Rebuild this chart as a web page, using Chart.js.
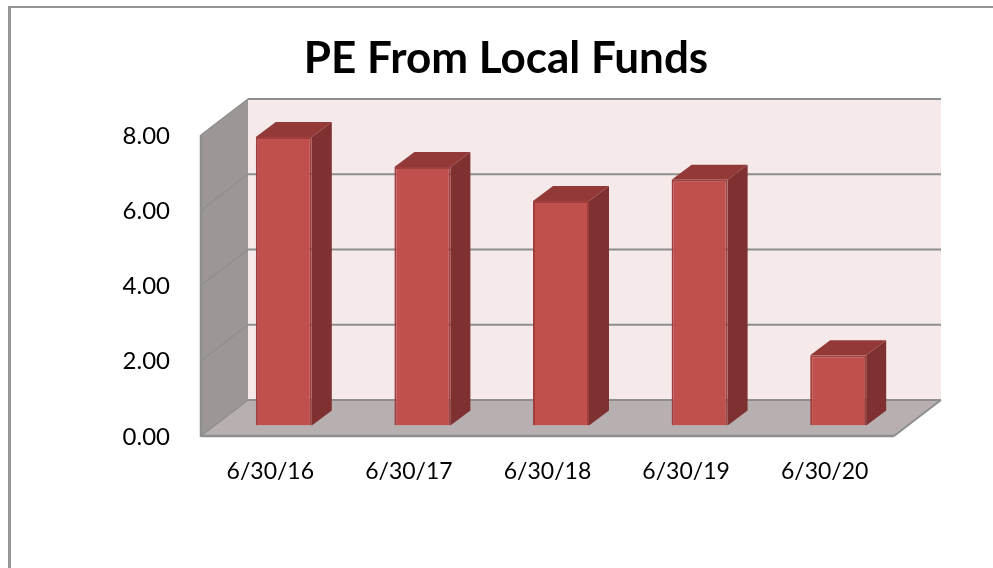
<!DOCTYPE html>
<html><head><meta charset="utf-8">
<style>
html,body{margin:0;padding:0;background:#fff;overflow:hidden}
#wrap{position:relative;width:993px;height:568px}
#frame{position:absolute;left:8px;top:6px;right:-10px;bottom:-10px;border-left:3px solid #969696;border-top:2px solid #969696}
canvas{position:absolute;left:0;top:0}
</style>
<script src="https://cdn.jsdelivr.net/npm/chart.js@4"></script>
</head><body>
<div id="wrap"><div id="frame"></div><canvas id="c" width="993" height="568"></canvas></div>
<script>
const categories = ['6/30/16','6/30/17','6/30/18','6/30/19','6/30/20'];
const peFromLocalFunds = [7.67,6.87,5.97,6.53,1.87];
const tickStep = 2;
const axisMax = 8;
const titleText = 'PE From Local Funds';

const FONT = 'Lato, "Open Sans", sans-serif';
const WALL_DX = 47, WALL_DY = 36;   // depth of the 3D box
const BAR_DX = 20, BAR_DY = 15;     // depth of each column
const SHIFT_X = (WALL_DX - BAR_DX) / 2, SHIFT_Y = (WALL_DY - BAR_DY) / 2;

function poly(ctx, pts, fill) {
  ctx.beginPath();
  pts.forEach((p, i) => i ? ctx.lineTo(p[0], p[1]) : ctx.moveTo(p[0], p[1]));
  ctx.closePath();
  ctx.fillStyle = fill; ctx.fill();
}
function line(ctx, x1, y1, x2, y2, c, lw) {
  ctx.beginPath(); ctx.moveTo(x1, y1); ctx.lineTo(x2, y2);
  ctx.strokeStyle = c; ctx.lineWidth = lw; ctx.stroke();
}

const box3d = {
  id: 'box3d',
  beforeDatasetsDraw(chart) {
    const { ctx, chartArea: a, scales: { y } } = chart;
    const dx = WALL_DX, dy = WALL_DY, G = '#8e8e8e';
    ctx.save();
    // back wall
    ctx.fillStyle = '#f5e9e9';
    ctx.fillRect(a.left + dx, a.top - dy, a.width, a.height);
    // side wall
    poly(ctx, [[a.left, a.top], [a.left + dx, a.top - dy], [a.left + dx, a.bottom - dy], [a.left, a.bottom]], '#9c9795');
    // floor
    poly(ctx, [[a.left, a.bottom], [a.left + dx, a.bottom - dy], [a.right + dx, a.bottom - dy], [a.right, a.bottom]], '#b8b0b0');
    // grid lines from the value scale
    y.ticks.forEach((t, i) => {
      const py = y.getPixelForTick(i);
      line(ctx, a.left + dx, py - dy, a.right + dx, py - dy, G, 2);
      line(ctx, a.left, py, a.left + dx, py - dy, G, 1.5);
    });
    // box edges
    line(ctx, a.left, a.top, a.left, a.bottom + 1, G, 2.5);
    line(ctx, a.left, a.bottom, a.right, a.bottom, G, 2.5);
    line(ctx, a.right, a.bottom, a.right + dx, a.bottom - dy, G, 2);
    ctx.restore();
    // columns are drawn by the library, moved to mid depth
    ctx.save();
    ctx.translate(SHIFT_X, -SHIFT_Y);
  },
  afterDatasetsDraw(chart) {
    const { ctx } = chart;
    ctx.restore();
    ctx.save();
    ctx.translate(SHIFT_X, -SHIFT_Y);
    chart.getDatasetMeta(0).data.forEach(b => {
      const { x, y, base, width } = b.getProps(['x', 'y', 'base', 'width'], true);
      const L = x - width / 2, R = x + width / 2;
      poly(ctx, [[R, y], [R + BAR_DX, y - BAR_DY], [R + BAR_DX, base - BAR_DY], [R, base]], '#7e3130');
      poly(ctx, [[L, y], [L + BAR_DX, y - BAR_DY], [R + BAR_DX, y - BAR_DY], [R, y]], '#933a38');
    });
    ctx.restore();
  }
};

new Chart(document.getElementById('c'), {
  type: 'bar',
  data: {
    labels: categories,
    datasets: [{
      label: 'PE From Local Funds',
      data: peFromLocalFunds,
      backgroundColor: '#c0504d',
      borderColor: '#9f3e3c',
      borderWidth: 2,
      barPercentage: 0.404,
      categoryPercentage: 1
    }]
  },
  options: {
    responsive: false,
    animation: false,
    devicePixelRatio: 1,
    layout: { padding: { left: 118, right: 99, top: 0, bottom: 0 } },
    plugins: {
      legend: { display: false },
      tooltip: { enabled: false },
      title: {
        display: true, text: titleText, color: '#000',
        font: { family: FONT, size: 44, weight: 'bold', lineHeight: 1.2 },
        padding: { top: 32, bottom: 50.2 }
      }
    },
    scales: {
      x: {
        grid: { display: false, drawTicks: false }, border: { display: false },
        ticks: { color: '#000', padding: 22, maxRotation: 0, font: { family: FONT, size: 23 } },
        afterFit: s => { s.height = 132; }
      },
      y: {
        min: 0, max: axisMax,
        grid: { display: false, drawTicks: false }, border: { display: false },
        ticks: { stepSize: tickStep, color: '#000', padding: 31, labelOffset: 1, font: { family: FONT, size: 24 },
                 callback: v => Number(v).toFixed(2) },
        afterFit: s => { s.width = 83; }
      }
    }
  },
  plugins: [box3d]
});
</script>
</body></html>
